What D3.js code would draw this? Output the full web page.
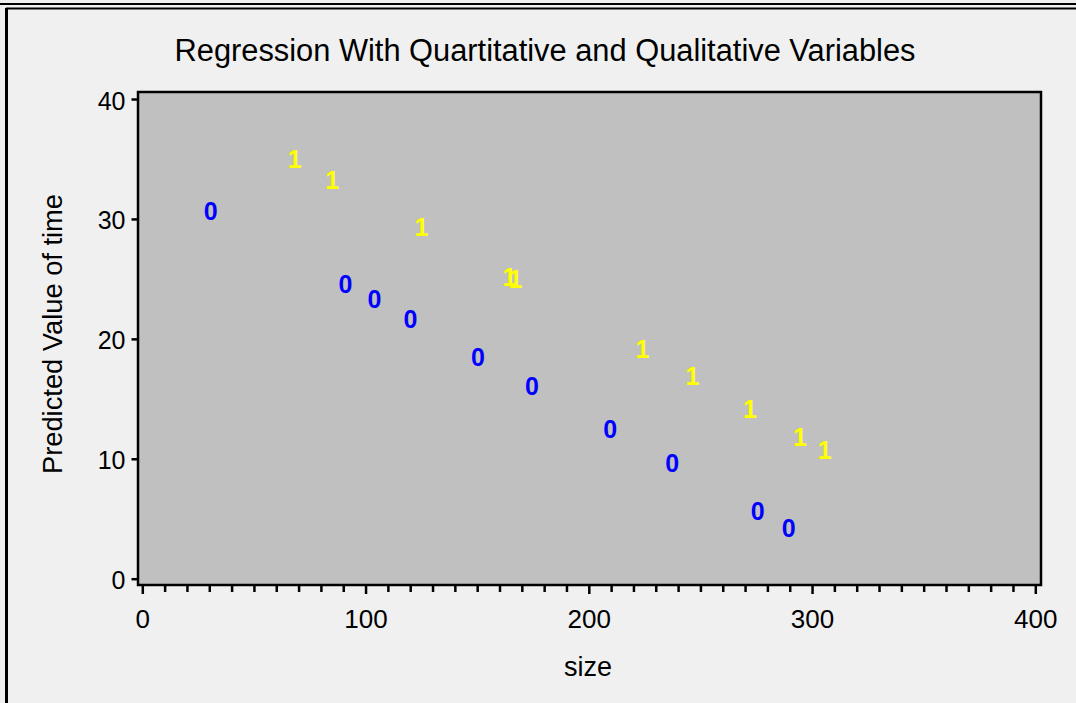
<!DOCTYPE html>
<html>
<head>
<meta charset="utf-8">
<script src="https://cdn.jsdelivr.net/npm/d3@7"></script>
<style>
  html, body { margin: 0; padding: 0; background: #f0f0f0; }
  svg { display: block; }
  text { font-family: "Liberation Sans", Arial, sans-serif; }
</style>
</head>
<body>
<svg id="chart" width="1076" height="703"></svg>
<script>
// ---- data ----
const titleText = "Regression With Quartitative and Qualitative Variables";
const xLabel = "size";
const yLabel = "Predicted Value of time";
const xTicksMajor = [0, 100, 200, 300, 400];
const yTicks = [0, 10, 20, 30, 40];
const groupLabels = ["0", "1"];
const groupColors = ["#0000ff", "#ffff00"];
const size0 = [30.6, 91.0, 104.0, 120.1, 150.4, 174.5, 209.6, 237.4, 275.7, 289.5];
const pred0 = [30.67, 24.55, 23.36, 21.69, 18.48, 16.03, 12.50, 9.66, 5.62, 4.23];
const size1 = [68.3, 85.1, 125.0, 164.5, 167.1, 224.0, 246.4, 272.2, 294.6, 305.7];
const pred1 = [34.96, 33.24, 29.34, 25.16, 25.03, 19.12, 16.87, 14.17, 11.80, 10.75];

// ---- layout ----
const svg = d3.select("#chart");
const plot = { left: 138, right: 1041, top: 92, bottom: 585 };
const x = d3.scaleLinear().domain([0, 400]).range([142.3, 1035.3]);
const y = d3.scaleLinear().domain([0, 40]).range([578.7, 99]);

// page frame
svg.append("rect").attr("x", 0).attr("y", 0).attr("width", 1076).attr("height", 703).attr("fill", "#f0f0f0");
svg.append("line").attr("x1", 0).attr("x2", 1076).attr("y1", 4).attr("y2", 4).attr("stroke", "#000").attr("stroke-width", 2);
svg.append("line").attr("x1", 6).attr("x2", 1076).attr("y1", 8.5).attr("y2", 8.5).attr("stroke", "#000").attr("stroke-width", 2);
svg.append("line").attr("x1", 6.5).attr("x2", 6.5).attr("y1", 8).attr("y2", 703).attr("stroke", "#000").attr("stroke-width", 3);

// plot area
svg.append("rect")
  .attr("x", plot.left).attr("y", plot.top)
  .attr("width", plot.right - plot.left).attr("height", plot.bottom - plot.top)
  .attr("fill", "#c0c0c0").attr("stroke", "#000").attr("stroke-width", 2.5);

// title
svg.append("text")
  .attr("x", 545).attr("y", 61)
  .attr("text-anchor", "middle")
  .attr("font-size", 31)
  .attr("textLength", 741).attr("lengthAdjust", "spacingAndGlyphs")
  .attr("fill", "#000")
  .text(titleText);

// x axis: minor ticks
const xMinor = d3.range(0, 401, 10).filter(v => v % 100 !== 0);
const gxMinor = svg.append("g").attr("transform", `translate(0,${plot.bottom + 1})`)
  .call(d3.axisBottom(x).tickValues(xMinor).tickSize(6).tickFormat(""));
gxMinor.select(".domain").remove();
gxMinor.selectAll("line").attr("stroke", "#000").attr("stroke-width", 2.5);

// x axis: major ticks
const gx = svg.append("g").attr("transform", `translate(0,${plot.bottom + 1})`)
  .call(d3.axisBottom(x).tickValues(xTicksMajor).tickSize(8).tickFormat(d3.format("d")));
gx.select(".domain").remove();
gx.selectAll("line").attr("stroke", "#000").attr("stroke-width", 2.5);
gx.selectAll("text")
  .attr("y", 42).attr("dy", null)
  .attr("font-size", 26).attr("fill", "#000")
  .attr("font-family", "Liberation Sans, Arial, sans-serif");

// y axis
const gy = svg.append("g").attr("transform", `translate(${plot.left - 0.5},0)`)
  .call(d3.axisLeft(y).tickValues(yTicks).tickSize(6).tickPadding(6).tickFormat(d3.format("d")));
gy.select(".domain").remove();
gy.selectAll("line").attr("stroke", "#000").attr("stroke-width", 2.5);
gy.selectAll("text")
  .attr("dy", "0.40em")
  .attr("font-size", 25).attr("fill", "#000")
  .attr("font-family", "Liberation Sans, Arial, sans-serif");

// axis labels
svg.append("text")
  .attr("x", 588).attr("y", 676)
  .attr("text-anchor", "middle")
  .attr("font-size", 27).attr("fill", "#000")
  .text(xLabel);

svg.append("text")
  .attr("transform", "translate(62,334) rotate(-90)")
  .attr("text-anchor", "middle")
  .attr("font-size", 27).attr("fill", "#000")
  .attr("textLength", 280).attr("lengthAdjust", "spacingAndGlyphs")
  .text(yLabel);

// points
const series = [
  { label: groupLabels[0], color: groupColors[0], xs: size0, ys: pred0 },
  { label: groupLabels[1], color: groupColors[1], xs: size1, ys: pred1 }
];
series.forEach(s => {
  svg.append("g").selectAll("text")
    .data(s.xs.map((v, i) => ({ x: v, y: s.ys[i] })))
    .join("text")
    .attr("x", d => x(d.x))
    .attr("y", d => y(d.y))
    .attr("dy", "0.36em")
    .attr("text-anchor", "middle")
    .attr("font-size", 25)
    .attr("font-weight", "bold")
    .attr("fill", s.color)
    .text(s.label);
});
</script>
</body>
</html>
